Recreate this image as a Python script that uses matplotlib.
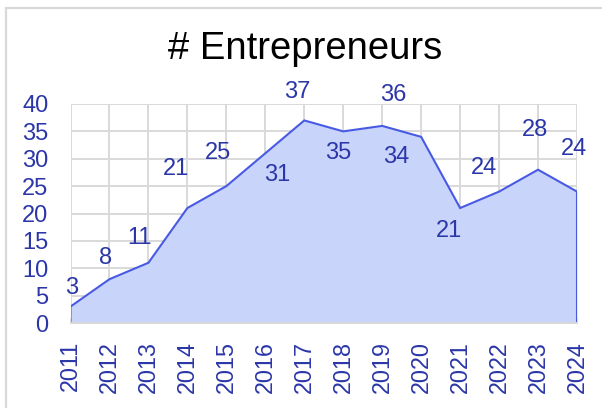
import matplotlib
matplotlib.use("Agg")
import matplotlib.pyplot as plt
from matplotlib.patches import Rectangle

plt.rcParams['font.family'] = ['Liberation Sans', 'DejaVu Sans']

years = [2011, 2012, 2013, 2014, 2015, 2016, 2017, 2018, 2019, 2020, 2021, 2022, 2023, 2024]
values = [3, 8, 11, 21, 25, 31, 37, 35, 36, 34, 21, 24, 28, 24]
title = "# Entrepreneurs"
y_ticks = [0, 5, 10, 15, 20, 25, 30, 35, 40]

# label offsets in pixels (dx, dy up) - styling only
label_offsets = [(1.5, 18.6), (-3.5, 20.7), (-9.4, 25), (-11, 39), (-8, 33), (12, -22),
                 (-7, 28), (-5, -22), (11, 31), (-25, -20), (-11, -23), (-15, 24),
                 (-3, 40), (-2.5, 43)]

W, H = 602, 408
fig = plt.figure(figsize=(W / 100, H / 100), dpi=100)
fig.patch.set_facecolor('white')

# outer frame
fig.patches.append(Rectangle((6 / W, -0.1), 1.2, 1 - 7.5 / H + 0.1, transform=fig.transFigure,
                             fill=False, edgecolor='#d9d9d9', linewidth=1.6))

left, right, top, bottom = 70.5, 577, 104, 323
ax = fig.add_axes([left / W, 1 - bottom / H, (right - left) / W, (bottom - top) / H])

label_color = '#2b36a8'
line_color = '#485ae4'
fill_color = '#c9d4fb'
grid_color = '#d9d9d9'

ax.fill_between(years, values, 0, color=fill_color, linewidth=0, zorder=2)
xs = [years[0]] + years + [years[-1]]
ys = [0] + values + [0]
ax.plot(xs, ys, color=line_color, linewidth=1.5, zorder=3, solid_joinstyle='miter')

ax.set_xlim(years[0], years[-1])
ax.set_ylim(0, 40)
ax.set_xticks(years)
ax.set_xticklabels([str(y) for y in years], rotation=90, fontsize=16.8, color=label_color)
ax.set_yticks(y_ticks)
ax.set_yticklabels([str(v) for v in y_ticks], fontsize=17, color=label_color)

ax.grid(True, color=grid_color, linewidth=1.4, zorder=1)
ax.set_axisbelow(True)
for s in ['top', 'right', 'left']:
    ax.spines[s].set_visible(False)
ax.spines['bottom'].set_color(grid_color)
ax.spines['bottom'].set_linewidth(1.4)
ax.spines['bottom'].set_zorder(4)
ax.tick_params(axis='y', length=0, pad=16)
ax.tick_params(axis='x', length=3.5, width=1.2, color=grid_color, direction='in', pad=13)

for x, v, (dx, dy) in zip(years, values, label_offsets):
    ax.annotate(str(v), (x, v), xytext=(dx, dy), textcoords='offset pixels',
                ha='center', va='center', fontsize=17, color=label_color, zorder=5,
                annotation_clip=False)

fig.text(305 / W, 1 - 49 / H, title, ha='center', va='center', fontsize=27.5, color='black')

fig.savefig('out.png', dpi=100, facecolor='white')
